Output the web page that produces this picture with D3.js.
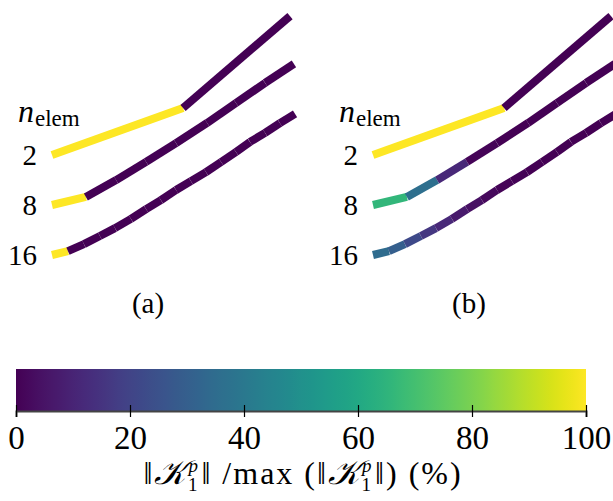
<!DOCTYPE html>
<html>
<head>
<meta charset="utf-8">
<script src="https://cdn.jsdelivr.net/npm/d3@7"></script>
<style>
  html, body { margin: 0; padding: 0; background: #fff; }
  svg { display: block; }
  text { font-family: "Liberation Serif", "DejaVu Serif", serif; fill: #000; }
</style>
</head>
<body>
<svg id="chart" width="613" height="501"></svg>
<script>
// ---------------- data ----------------
const meshes = ["2", "8", "16"];           // n_elem categories
const panels = ["(a)", "(b)"];
// deformed node coordinates (fraction of beam length)
const nodes2 = [[0,0],[0.468,0.168],[0.850,0.496]];
const nodes8 = [[0,0],[0.121,0.029],[0.229,0.089],[0.336,0.154],[0.443,0.221],
                [0.554,0.293],[0.657,0.364],[0.761,0.436],[0.864,0.504]];
const nodes16 = [[0,0],[0.057,0.014],[0.114,0.039],[0.171,0.068],[0.225,0.096],
                 [0.282,0.129],[0.336,0.164],[0.389,0.196],[0.443,0.232],[0.496,0.264],
                 [0.550,0.296],[0.604,0.332],[0.657,0.368],[0.707,0.404],[0.761,0.436],
                 [0.814,0.471],[0.868,0.504]];
// element values ||K1^p|| / max (%)
const valuesA2  = [100, 0];
const valuesA8  = [100, 0, 0, 0, 0, 0, 0, 0];
const valuesA16 = [100, 0, 0, 0, 0, 0, 0, 0, 0, 0, 0, 0, 0, 0, 0, 0];
const valuesB2  = [100, 0];
const valuesB8  = [66, 36, 11, 1, 0, 0, 0, 0];
const valuesB16 = [35, 30, 22, 16, 11, 7, 4, 2, 1, 0.5, 0, 0, 0, 0, 0, 0];
const cbTicks = [0, 20, 40, 60, 80, 100];

// ---------------- layout ----------------
const svg = d3.select("#chart");
const FS = 29;

const nodesByMesh = { "2": nodes2, "8": nodes8, "16": nodes16 };
const valuesByPanel = [
  { "2": valuesA2, "8": valuesA8, "16": valuesA16 },
  { "2": valuesB2, "8": valuesB8, "16": valuesB16 }
];

const panelX = d3.scalePoint().domain(panels).range([52, 373]);   // beam root x
const rowY = d3.scalePoint().domain(meshes).range([155, 255]);     // beam root y
const sx = d3.scaleLinear().domain([0, 1]).range([0, 280]);
const sy = d3.scaleLinear().domain([0, 1]).range([0, -280]);
const color = d3.scaleSequential(d3.interpolateViridis).domain([0, 100]);

panels.forEach((p, pi) => {
  const g = svg.append("g").attr("transform", `translate(${panelX(p)},0)`);
  meshes.forEach(m => {
    const nd = nodesByMesh[m];
    const vals = valuesByPanel[pi][m];
    const y0 = rowY(m);
    const segs = vals.map((v, i) => ({ a: nd[i], b: nd[i + 1], v }));
    g.append("g").selectAll("line").data(segs).join("line")
      .attr("x1", d => sx(d.a[0]))
      .attr("y1", d => y0 + sy(d.a[1]))
      .attr("x2", d => sx(d.b[0]))
      .attr("y2", d => y0 + sy(d.b[1]))
      .attr("stroke", d => color(d.v))
      .attr("stroke-width", 8)
      .attr("stroke-linecap", "butt");
    g.append("text")
      .attr("x", -15).attr("y", y0 + 10)
      .attr("text-anchor", "end")
      .attr("font-size", FS)
      .text(m);
  });
  // n_elem header
  const t = g.append("text").attr("x", -34).attr("y", 122).attr("font-size", 32);
  t.append("tspan").attr("font-style", "italic").text("n");
  t.append("tspan").attr("dx", 1).attr("dy", 4).attr("font-size", 23).text("elem");
  // panel label
  g.append("text")
    .attr("x", 96).attr("y", 313)
    .attr("text-anchor", "middle")
    .attr("font-size", 29)
    .text(p);
});

// ---------------- colorbar ----------------
const cbX = d3.scaleLinear().domain([0, 100]).range([16, 586]);
const cbTop = 369, cbBot = 411;
const defs = svg.append("defs");
const grad = defs.append("linearGradient").attr("id", "vir")
  .attr("x1", "0%").attr("x2", "100%").attr("y1", "0%").attr("y2", "0%");
d3.range(0, 101, 2).forEach(v => {
  grad.append("stop").attr("offset", v + "%").attr("stop-color", color(v));
});
svg.append("rect")
  .attr("x", cbX(0)).attr("y", cbTop)
  .attr("width", cbX(100) - cbX(0)).attr("height", cbBot - cbTop)
  .attr("fill", "url(#vir)");

const axis = d3.axisBottom(cbX).tickValues(cbTicks).tickSize(6).tickPadding(9)
  .tickFormat(d3.format("d"));
const ag = svg.append("g").attr("transform", `translate(0,${cbBot})`).call(axis);
ag.select(".domain").attr("stroke", "#444").attr("stroke-width", 2);
ag.selectAll(".tick line").attr("y1", -6).attr("y2", 6).attr("stroke", "#000").attr("stroke-width", 1.2);
ag.selectAll(".tick text")
  .attr("font-family", "'Liberation Serif', serif")
  .attr("font-size", 33).attr("fill", "#000");

// axis label
const lab = svg.append("text")
  .attr("x", 303).attr("y", 484)
  .attr("text-anchor", "middle")
  .attr("font-size", 32)
  .attr("letter-spacing", 2);
function normK(sel) {
  sel.append("tspan").text("\u2016");
  sel.append("tspan").attr("font-style", "italic").attr("font-size", 34).text("\uD835\uDCA6");
  sel.append("tspan").attr("dy", -12).attr("font-size", 19).attr("font-style", "italic").text("p");
  sel.append("tspan").attr("dx", -12).attr("dy", 19).attr("font-size", 19).text("1");
  sel.append("tspan").attr("dx", 2).attr("dy", -7).text("\u2016");
}
normK(lab);
lab.append("tspan").text(" /max (");
normK(lab);
lab.append("tspan").text(")  (%)");
</script>
</body>
</html>
